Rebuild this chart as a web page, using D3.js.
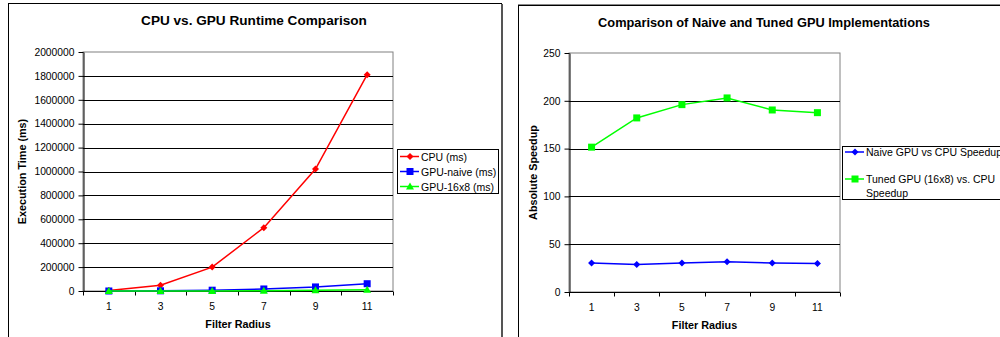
<!DOCTYPE html>
<html>
<head>
<meta charset="utf-8">
<script src="https://cdn.jsdelivr.net/npm/d3@7"></script>
<style>
  body { margin: 0; background: #fff; }
  svg { display: block; font-family: "Liberation Sans", Arial, sans-serif; }
</style>
</head>
<body>
<svg id="chart" width="1000" height="337"></svg>
<script>
const radii = ["1", "3", "5", "7", "9", "11"];

// left chart: runtimes in ms
const cpuMs = [5000, 48000, 200000, 530000, 1020000, 1810000];
const gpuNaiveMs = [170, 1650, 6700, 17000, 34000, 61000];
const gpu16x8Ms = [35, 265, 1020, 2600, 5340, 9630];
const runtimeTicks = [0, 200000, 400000, 600000, 800000, 1000000, 1200000, 1400000, 1600000, 1800000, 2000000];

// right chart: speedups
const naiveSpeedup = [30.3, 28.8, 30.3, 31.6, 30.3, 29.9];
const tunedSpeedup = [151.5, 182.1, 196, 203, 190.4, 187.6];
const speedupTicks = [0, 50, 100, 150, 200, 250];

const svg = d3.select("#chart");

// chart frames
svg.append("rect").attr("x", 8.5).attr("y", 3.5).attr("width", 493).attr("height", 340)
  .attr("fill", "none").attr("stroke", "#000").attr("stroke-width", 1);
svg.append("line").attr("x1", 502).attr("x2", 502).attr("y1", 4).attr("y2", 337)
  .attr("stroke", "#555").attr("stroke-width", 2);
svg.append("rect").attr("x", 518.5).attr("y", 5.5).attr("width", 500).attr("height", 340)
  .attr("fill", "none").attr("stroke", "#000").attr("stroke-width", 1);
svg.append("line").attr("x1", 518).attr("x2", 1000).attr("y1", 4.5).attr("y2", 4.5)
  .attr("stroke", "#888").attr("stroke-width", 1);

function marker(g, shape, x, y, color) {
  if (shape === "diamond") {
    g.append("path").attr("d", `M${x},${y-3.5}L${x+3.5},${y}L${x},${y+3.5}L${x-3.5},${y}Z`).attr("fill", color);
  } else if (shape === "square") {
    g.append("rect").attr("x", x - 3.5).attr("y", y - 3.5).attr("width", 7).attr("height", 7).attr("fill", color);
  } else {
    g.append("path").attr("d", `M${x},${y-4}L${x+4},${y+3}L${x-4},${y+3}Z`).attr("fill", color);
  }
}

function drawChart(opt) {
  const g = svg.append("g");
  const x = d3.scaleBand().domain(radii).range([opt.left, opt.right]);
  const y = d3.scaleLinear().domain([0, opt.max]).range([opt.bottom, opt.top]);

  // plot border
  g.append("rect").attr("x", opt.left).attr("y", opt.top)
    .attr("width", opt.right - opt.left).attr("height", opt.bottom - opt.top)
    .attr("fill", "none").attr("stroke", "#808080");

  // gridlines
  g.selectAll(".grid").data(opt.ticks.slice(1, -1)).join("line")
    .attr("x1", opt.left).attr("x2", opt.right)
    .attr("y1", d => Math.round(y(d)) + 0.5).attr("y2", d => Math.round(y(d)) + 0.5)
    .attr("stroke", "#000");

  // y axis
  const yAxis = g.append("g").attr("transform", `translate(${opt.left + 0.5},0)`)
    .call(d3.axisLeft(y).tickValues(opt.ticks).tickSize(5).tickSizeOuter(0).tickFormat(d3.format("d")));
  yAxis.select(".domain").attr("stroke", "#000");
  yAxis.selectAll("text").attr("font-size", 10.3).attr("fill", "#000").attr("x", -9);

  // x axis with ticks on category boundaries
  const xAxis = g.append("g").attr("transform", `translate(0,${opt.bottom + 0.5})`);
  xAxis.append("line").attr("x1", opt.left).attr("x2", opt.right).attr("stroke", "#000");
  const bounds = radii.map(r => x(r)).concat([opt.right]);
  xAxis.selectAll(".tk").data(bounds).join("line")
    .attr("x1", d => Math.round(d) + 0.5).attr("x2", d => Math.round(d) + 0.5)
    .attr("y1", 0).attr("y2", 4).attr("stroke", "#000");
  xAxis.selectAll(".lb").data(radii).join("text")
    .attr("x", d => x(d) + x.bandwidth() / 2).attr("y", 18)
    .attr("text-anchor", "middle").attr("font-size", 10.3).text(d => d);

  // titles
  g.append("text").attr("x", opt.titleX).attr("y", opt.titleY).attr("text-anchor", "middle")
    .attr("font-size", opt.titleSize).attr("font-weight", "bold").text(opt.title);
  g.append("text").attr("x", (opt.left + opt.right) / 2).attr("y", opt.bottom + 37)
    .attr("text-anchor", "middle").attr("font-size", 10.8).attr("font-weight", "bold").text("Filter Radius");
  g.append("text").attr("transform", `translate(${opt.yTitleX},${(opt.top + opt.bottom) / 2}) rotate(-90)`)
    .attr("text-anchor", "middle").attr("font-size", 10.8).attr("font-weight", "bold").text(opt.yTitle);

  // series
  const cx = d => x(d) + x.bandwidth() / 2;
  opt.series.forEach(s => {
    const line = d3.line().x((v, i) => cx(radii[i])).y(v => y(v));
    g.append("path").datum(s.values).attr("d", line)
      .attr("fill", "none").attr("stroke", s.color).attr("stroke-width", 1.5);
    s.values.forEach((v, i) => marker(g, s.shape, cx(radii[i]), y(v), s.color));
  });

  // legend
  const lg = g.append("g");
  lg.append("rect").attr("x", opt.legend.x + 0.5).attr("y", opt.legend.y + 0.5)
    .attr("width", opt.legend.w).attr("height", opt.legend.h)
    .attr("fill", "#fff").attr("stroke", "#000");
  opt.series.forEach((s, i) => {
    const ly = opt.legend.y + opt.legend.rows[i];
    const lx = opt.legend.x + 3;
    lg.append("line").attr("x1", lx).attr("x2", lx + 19).attr("y1", ly).attr("y2", ly)
      .attr("stroke", s.color).attr("stroke-width", 1.5);
    marker(lg, s.shape, lx + 10, ly, s.color);
    const t = lg.append("text").attr("x", lx + 21).attr("y", ly + 4).attr("font-size", 10.5);
    s.label.forEach((l, j) => t.append("tspan").attr("x", lx + 21).attr("dy", j ? 13.5 : 0).text(l));
  });
}

drawChart({
  left: 83, right: 393, top: 52, bottom: 291, max: 2000000, ticks: runtimeTicks,
  title: "CPU vs. GPU Runtime Comparison", titleX: 254, titleY: 25, titleSize: 13.6,
  yTitle: "Execution Time (ms)", yTitleX: 26,
  legend: { x: 397, y: 149, w: 101, h: 44, rows: [7.5, 22.5, 37.5] },
  series: [
    { label: ["CPU (ms)"], values: cpuMs, color: "#ff0000", shape: "diamond" },
    { label: ["GPU-naive (ms)"], values: gpuNaiveMs, color: "#0000ff", shape: "square" },
    { label: ["GPU-16x8 (ms)"], values: gpu16x8Ms, color: "#00ff00", shape: "triangle" }
  ]
});

drawChart({
  left: 569, right: 840, top: 53, bottom: 292, max: 250, ticks: speedupTicks,
  title: "Comparison of Naive and Tuned GPU Implementations", titleX: 764, titleY: 27, titleSize: 12.8,
  yTitle: "Absolute Speedup", yTitleX: 537,
  legend: { x: 842, y: 146, w: 165, h: 53, rows: [6, 33] },
  series: [
    { label: ["Naive GPU vs CPU Speedup"], values: naiveSpeedup, color: "#0000ff", shape: "diamond" },
    { label: ["Tuned GPU (16x8) vs. CPU", "Speedup"], values: tunedSpeedup, color: "#00ff00", shape: "square" }
  ]
});
</script>
</body>
</html>
